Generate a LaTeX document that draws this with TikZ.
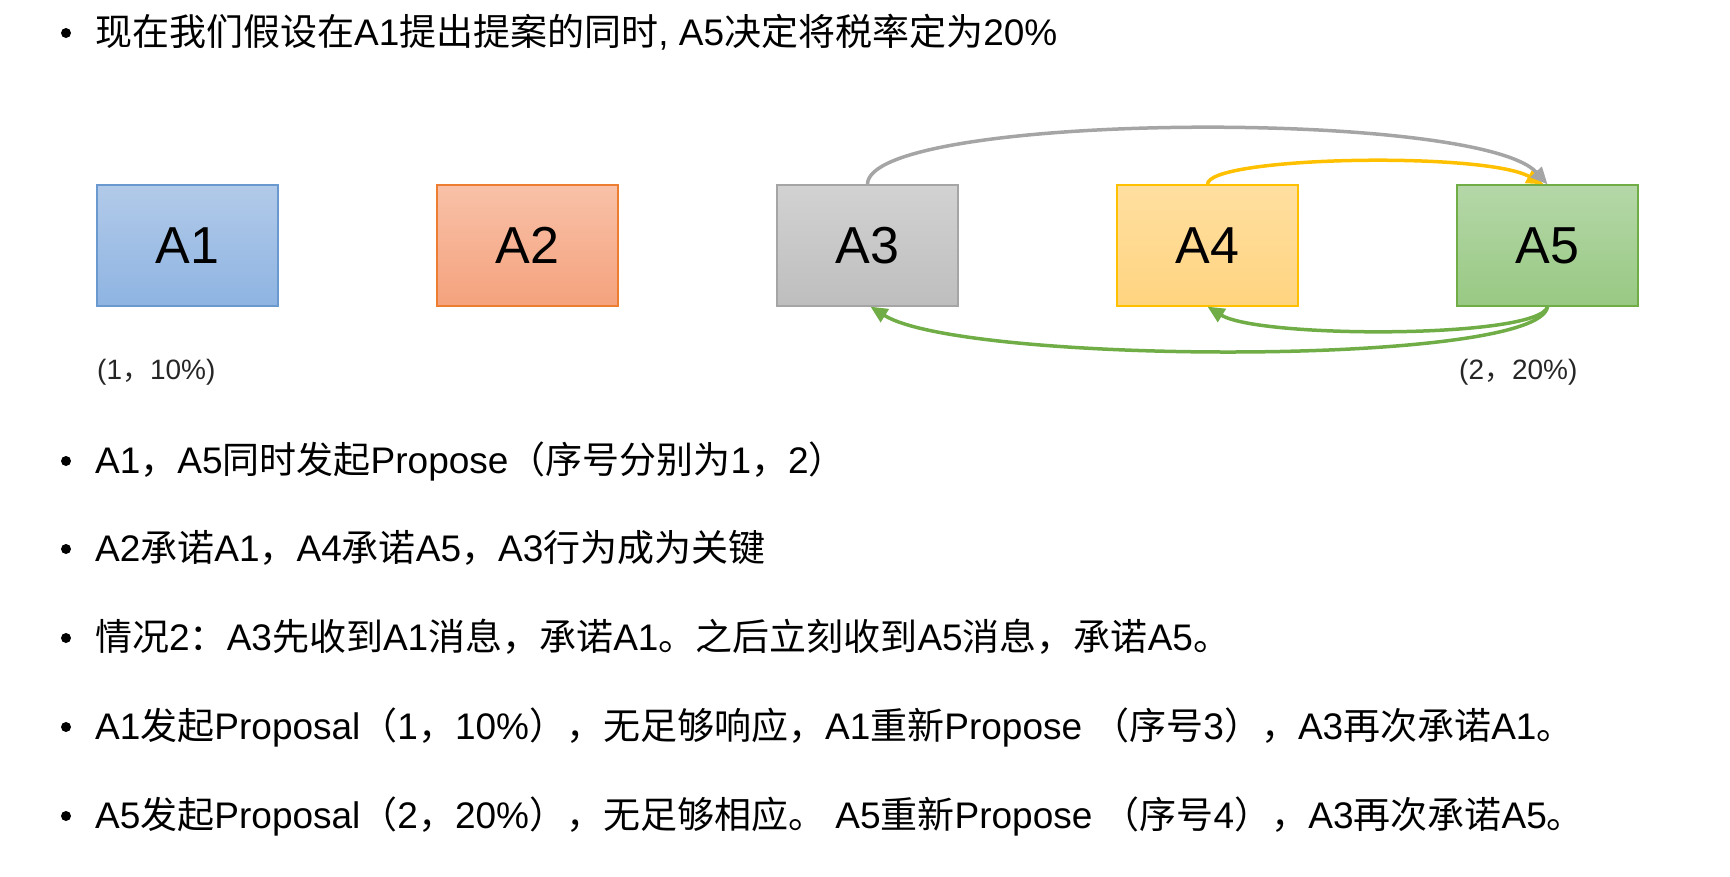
\documentclass[tikz,border=0pt]{standalone}
\usepackage{fontspec}
\setmainfont{Liberation Sans}
\newfontfamily\cjk{Noto Sans CJK SC}
\usetikzlibrary{calc}
\usetikzlibrary{arrows.meta}
\definecolor{AcBlueTop}{RGB}{178,202,233}
\definecolor{AcBlueBot}{RGB}{142,180,226}
\definecolor{AcBlue}{RGB}{106,153,208}
\definecolor{AcRedTop}{RGB}{248,193,168}
\definecolor{AcRedBot}{RGB}{245,162,125}
\definecolor{AcRed}{RGB}{237,125,49}
\definecolor{AcGrayTop}{RGB}{210,210,210}
\definecolor{AcGrayBot}{RGB}{190,190,190}
\definecolor{AcGray}{RGB}{165,165,165}
\definecolor{AcYellowTop}{RGB}{255,223,160}
\definecolor{AcYellowBot}{RGB}{255,212,128}
\definecolor{AcYellow}{RGB}{255,192,0}
\definecolor{AcGreenTop}{RGB}{181,215,168}
\definecolor{AcGreenBot}{RGB}{152,201,131}
\definecolor{AcGreen}{RGB}{112,173,71}
\newcommand\zh[1]{{\cjk #1}}

\begin{document}
\begin{tikzpicture}[x=1pt, y=-1pt,
	Kasten/.style={draw, line width=1.3pt, minimum width=181pt, minimum height=121pt, inner sep=0pt, font=\fontsize{52}{52}\selectfont},
	Zeile/.style={anchor=base west, inner sep=0pt, font=\fontsize{37}{44}\selectfont},
	Klammer/.style={anchor=west, inner sep=0pt, font=\fontsize{28}{32}\selectfont, text=black!85},
	Bogen/.style={line width=3.5pt, arrows = -{Triangle[length=17pt, width=15pt]}}]
				\useasboundingbox (0,0) rectangle (1730,877);
				% Akteure
				\coordinate (a) at (187.5,245.5);
				\node[Kasten, draw=AcBlue, top color=AcBlueTop, bottom color=AcBlueBot] (A1) at (a) {A1};
				\node[Kasten, draw=AcRed, top color=AcRedTop, bottom color=AcRedBot] (A2) at ($(a) + (340,0)$) {A2};
				\node[Kasten, draw=AcGray, top color=AcGrayTop, bottom color=AcGrayBot] (A3) at ($(a) + (680,0)$) {A3};
				\node[Kasten, draw=AcYellow, top color=AcYellowTop, bottom color=AcYellowBot] (A4) at ($(a) + (1020,0)$) {A4};
				\node[Kasten, draw=AcGreen, top color=AcGreenTop, bottom color=AcGreenBot] (A5) at ($(a) + (1360,0)$) {A5};
				\node[Klammer] (l1) at (97,372) {(1\zh{，}10\%)};
				\node[Klammer] (l5) at (1459,372) {(2\zh{，}20\%)};
				% Boegen
				\draw[Bogen, AcYellow] (A4.north) .. controls +(0,-28) and +(-60,-33) .. ([xshift=-4pt]A5.north);
				\draw[Bogen, AcGray] (A3.north) .. controls +(0,-72) and +(-70,-76) .. (A5.north);
				\draw[Bogen, AcGreen] (A5.south) .. controls +(-8,32) and +(52,32) .. (A4.south);
				\draw[Bogen, AcGreen] (A5.south) .. controls +(-8,60) and +(92,58) .. ([xshift=3pt]A3.south);
				% Text
				\node[Zeile] (t0) at (95,46) {\zh{现在我们假设在}A1\zh{提出提案的同时}, A5\zh{决定将税率定为}20\%};
				\node[Zeile] (t1) at (95,473) {A1\zh{，}A5\zh{同时发起}Propose\zh{（序号分别为}1\zh{，}2\zh{）}};
				\node[Zeile] (t2) at (95,561) {A2\zh{承诺}A1\zh{，}A4\zh{承诺}A5\zh{，}A3\zh{行为成为关键}};
				\node[Zeile] (t3) at (95,650) {\zh{情况}2\zh{：}A3\zh{先收到}A1\zh{消息，承诺}A1\zh{。之后立刻收到}A5\zh{消息，承诺}A5\zh{。}};
				\node[Zeile] (t4) at (95,739) {A1\zh{发起}Proposal\zh{（}1\zh{，}10\%\zh{），无足够响应，}A1\zh{重新}Propose \zh{（序号}3\zh{），}A3\zh{再次承诺}A1\zh{。}};
				\node[Zeile] (t5) at (95,828) {A5\zh{发起}Proposal\zh{（}2\zh{，}20\%\zh{），无足够相应。} A5\zh{重新}Propose \zh{（序号}4\zh{），}A3\zh{再次承诺}A5\zh{。}};
				\foreach \y in {33,461,549,638,727,816}
					\fill (66,\y) circle (5);
			\end{tikzpicture}
\end{document}
